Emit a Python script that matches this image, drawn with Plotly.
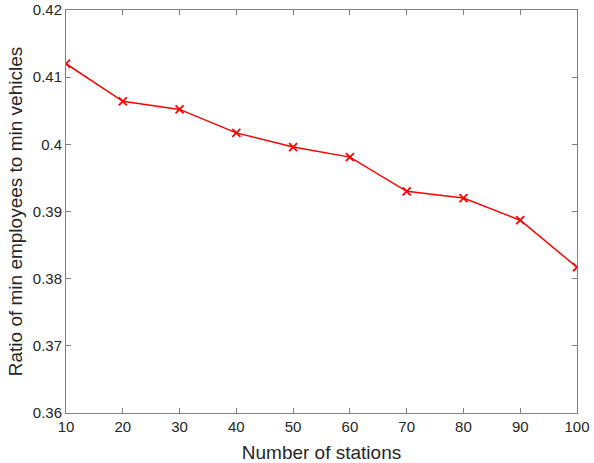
"""Ratio of min employees to min vehicles versus number of stations."""
import plotly.graph_objects as go

stations = [10, 20, 30, 40, 50, 60, 70, 80, 90, 100]
ratio = [0.4120, 0.4064, 0.4052, 0.4017, 0.3996, 0.3981, 0.3930, 0.3920,
         0.3887, 0.3817]
y_ticks = [0.36, 0.37, 0.38, 0.39, 0.40, 0.41, 0.42]
y_tick_text = ['0.36', '0.37', '0.38', '0.39', '0.4', '0.41', '0.42']
x_ticks = [10, 20, 30, 40, 50, 60, 70, 80, 90, 100]

axis_style = dict(showgrid=False, zeroline=False, showline=True,
                  linecolor='#808080', linewidth=1, mirror='ticks',
                  ticks='inside', ticklen=5, tickcolor='#808080',
                  tickfont=dict(size=15, color='#262626'),
                  title_font=dict(size=19, color='#262626'))

trace = go.Scatter(x=stations, y=ratio, mode='lines+markers',
                   line=dict(color='#ff0000', width=1.5),
                   marker=dict(symbol='x-thin', size=8,
                               line=dict(color='#ff0000', width=1.8)))

fig = go.Figure(trace)
fig.update_layout(width=594, height=463,
                  margin=dict(l=66, r=17, t=10, b=50, autoexpand=False),
                  paper_bgcolor='white', plot_bgcolor='white',
                  font_family='Liberation Sans', showlegend=False)
fig.update_xaxes(axis_style, range=[10, 100], tickvals=x_ticks,
                 title_text='Number of stations', title_standoff=12)
fig.update_yaxes(axis_style, range=[0.36, 0.42], tickvals=y_ticks,
                 ticktext=y_tick_text,
                 title_text='Ratio of min employees to min vehicles',
                 title_standoff=5)

# page body margin would shift the fixed-size figure
fig.write_html("out.html", config={'displayModeBar': False},
               post_script="document.body.style.margin='0';")
